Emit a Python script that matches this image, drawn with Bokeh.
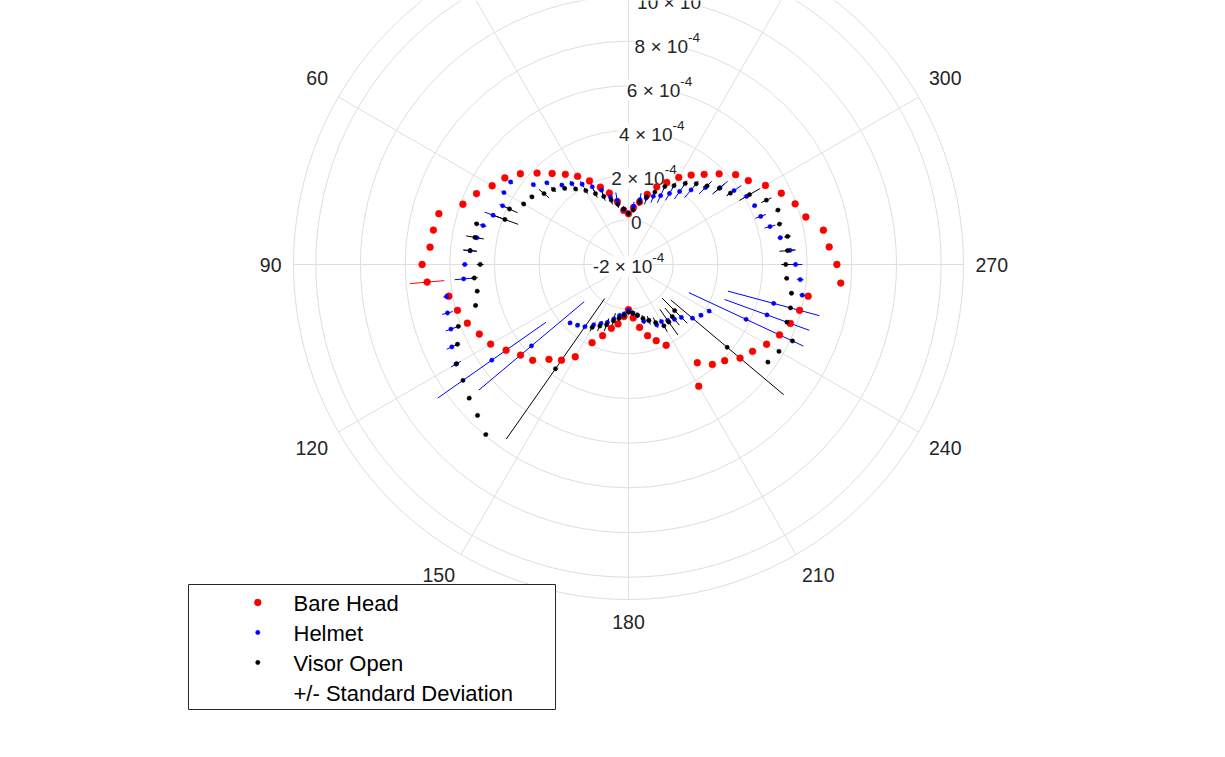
import numpy as np
from bokeh.plotting import figure
from bokeh.models import Range1d
from bokeh.core.properties import value
from bokeh.embed import file_html
from bokeh.resources import INLINE

# ---------------- data (radial values in units of 1e-4) ----------------
theta_deg = list(range(0, 360, 5))

bare_head = [0.27, 0.43, 0.85, 1.31, 1.68, 2.13, 2.56, 2.93, 3.32, 3.79, 4.32, 4.76,
             5.05, 5.51, 5.89, 6.79, 6.87, 6.92, 7.24, 7.05, 6.17, 5.93, 5.68, 5.37,
             5.13, 4.69, 4.31, 4.07, 3.54, 3.23, 2.77, 1.86, 1.39, 0.96, 0.70, 0.34,
             0.02, 0.40, 0.86, 1.30, 1.63, 1.99, 4.29, 3.37, 3.84, 4.09, 4.52, 4.78,
             5.14, 5.46, 5.71, 5.93, 6.17, 7.54, 7.33, 7.02, 6.86, 6.22, 5.94, 5.55,
             5.08, 4.55, 4.26, 3.74, 3.27, 2.89, 2.50, 2.05, 1.70, 1.25, 0.84, 0.55]
bare_head_sd = [0.10] * 19 + [0.77] + [0.10] * 52

helmet = [0.30, 0.46, 0.92, 1.13, 1.54, 1.84, 2.15, 2.42, 2.64, 3.17, 3.56, 4.44,
          4.44, 4.22, 4.45, 4.74, 4.90, 5.12, 5.33, 5.41, 6.27, 6.39, 6.46, 6.73,
          6.92, 5.47, 3.67, 1.70, 1.55, 1.40, 1.12, 0.92, 0.76, 0.52, 0.32, 0.22,
          0.06, 0.17, 0.32, 0.63, 0.67, 0.98, 0.95, 1.06, 1.20, 1.35, 1.74, 1.96,
          2.17, 3.81, 4.60, 4.73, 5.90, 5.72, 5.48, 5.26, 4.90, 4.56, 4.30, 4.23,
          4.10, 3.77, 3.35, 2.87, 2.36, 1.99, 1.67, 1.40, 1.25, 1.08, 0.95, 0.62]
helmet_sd = [0.10, 0.15, 0.35, 0.35, 0.30, 0.25, 0.15, 0.15, 0.12, 0.12, 0.12, 0.12,
             0.12, 0.15, 0.40, 0.15, 0.15, 0.30, 0.12, 0.40, 0.15, 0.25, 0.25, 0.25,
             0.25, 2.96, 3.08, 0.12, 0.12, 0.12, 0.12, 0.12, 0.12, 0.12, 0.12, 0.10,
             0.10, 0.10, 0.10, 0.12, 0.12, 0.12, 0.12, 0.15, 0.15, 0.15, 0.12, 0.12,
             0.12, 2.83, 2.02, 2.12, 0.12, 0.15, 0.30, 0.20, 0.12, 0.25, 0.25, 0.12,
             0.15, 0.40, 0.45, 0.40, 0.45, 0.40, 0.35, 0.35, 0.30, 0.30, 0.30, 0.20]

visor_open = [0.28, 0.50, 0.74, 0.99, 1.24, 1.50, 1.82, 2.13, 2.45, 2.75, 2.94, 3.28,
              3.42, 3.88, 3.89, 5.04, 4.98, 5.12, 4.64, 4.93, 4.88, 5.09, 6.11, 6.45,
              6.89, 7.05, 7.31, 7.56, 7.94, 3.70, 1.25, 1.04, 0.87, 0.61, 0.45, 0.30,
              0.14, 0.20, 0.30, 0.50, 0.66, 0.87, 1.17, 1.15, 1.05, 0.92, 3.77, 5.62,
              5.78, 6.10, 5.55, 5.51, 5.41, 5.11, 5.04, 5.15, 5.23, 5.00, 5.12, 4.81,
              4.26, 3.57, 3.31, 2.98, 2.72, 2.43, 2.08, 1.85, 1.45, 1.13, 0.83, 0.45]
visor_open_sd = [0.10, 0.10, 0.12, 0.15, 0.20, 0.20, 0.15, 0.12, 0.12, 0.15, 0.30, 0.12,
                 0.12, 0.40, 0.63, 0.12, 0.40, 0.30, 0.15, 0.15, 0.10, 0.10, 0.10, 0.10,
                 0.10, 0.10, 0.10, 0.10, 0.10, 3.84, 0.20, 0.25, 0.30, 0.35, 0.20, 0.15,
                 0.10, 0.10, 0.12, 0.15, 0.20, 0.25, 0.30, 0.70, 0.50, 0.80, 3.30, 0.10,
                 0.10, 0.10, 0.10, 0.10, 0.10, 0.10, 0.20, 0.36, 0.15, 0.12, 0.12, 0.25,
                 0.53, 0.20, 0.30, 0.15, 0.15, 0.15, 0.15, 0.15, 0.20, 0.20, 0.15, 0.10]

r_ticks = [-2, 0, 2, 4, 6, 8, 10, 12]          # x 1e-4
r_min, r_max = -2, 13
theta_ticks = list(range(0, 360, 30))
legend_labels = ["Bare Head", "Helmet", "Visor Open", "+/- Standard Deviation"]
series_colors = ["#ff0000", "#0000ff", "#000000"]
marker_sizes = [6.8, 4.3, 4.3]

# ---------------- layout ----------------
W, H = 1209, 741
CX, CY = 628.0, 264.0           # canvas pixel position of the pole
PX = 335.0 / (r_max - r_min)    # pixels per 1e-4
FONT = value("Liberation Sans")
GRID = "#dedede"
TXT = "#262626"


def pol_d(d, th):
    d = np.asarray(d, dtype=float)
    t = np.radians(np.asarray(th, dtype=float))
    return -d * np.sin(t), d * np.cos(t)


def pol(r, th):
    return pol_d(np.asarray(r, dtype=float) - r_min, th)


def sx(px):
    return (px - CX) / PX


def sy(py):
    return (CY - py) / PX


def visible(y_data, margin=12):
    return CY - y_data * PX > -margin


CW = {"-": 0.333, " ": 0.278, "\u00d7": 0.584}
def tw(s, fs):
    return sum(CW.get(c, 0.556) for c in s) * fs


p = figure(width=W, height=H, output_backend="svg", toolbar_location=None,
           x_axis_type=None, y_axis_type=None, min_border=0,
           x_range=Range1d(sx(0), sx(W)), y_range=Range1d(sy(H), sy(0)))
p.outline_line_color = None
p.background_fill_color = "white"

# grid circles
circ_d = [t - r_min for t in r_ticks if t > r_min] + [r_max - r_min]
p.circle(x=[0] * len(circ_d), y=[0] * len(circ_d), radius=circ_d,
         fill_color=None, line_color=GRID, line_width=1)
# spokes
ex, ey = pol_d([r_max - r_min] * len(theta_ticks), theta_ticks)
p.segment(x0=[0] * len(theta_ticks), y0=[0] * len(theta_ticks), x1=ex, y1=ey,
          line_color=GRID, line_width=1)

# theta labels: box aligned against a circle just outside the axes (MATLAB style)
TH_FS = 19.5
ANCH = 347.0 / PX
HALF_H_UP = 13.0 / PX
HALF_H_DN = 10.0 / PX
lx, ly, ltxt = [], [], []
for t in theta_ticks:
    axp, ayp = pol_d(ANCH, t)
    dx, dy = -np.sin(np.radians(t)), np.cos(np.radians(t))
    hw = tw(str(t), TH_FS) / 2 / PX
    cx = axp + (hw if dx > 1e-6 else (-hw if dx < -1e-6 else 0.0))
    cy = ayp + (HALF_H_UP if dy > 1e-6 else (-HALF_H_DN if dy < -1e-6 else 0.0))
    if visible(cy):
        lx.append(float(cx)); ly.append(float(cy)); ltxt.append(str(t))
p.text(x=lx, y=ly, text=ltxt, text_font=FONT,
       text_font_size=value(f"{TH_FS}px"), text_color=TXT,
       text_align="center", text_baseline="middle")

# r tick labels along 350 deg
BASE_FS, SUP_FS = 19.0, 13.5
bx, by, btxt, balign = [], [], [], []
supx, supy, suptxt = [], [], []
ax_all, ay_all = pol([t for t in r_ticks], [350] * len(r_ticks))
for t, ax, ay in zip(r_ticks, ax_all, ay_all):
    if not visible(ay):
        continue
    if t == 0:
        bx.append(ax); by.append(ay - 1.5 / PX); btxt.append("0"); balign.append("center")
        continue
    base = f"{t} \u00d7 10"
    B, S = tw(base, BASE_FS), tw("-4", SUP_FS)
    xr = ax + (B - S) / 2 / PX
    bx.append(xr); by.append(ay - 1.5 / PX); btxt.append(base); balign.append("right")
    supx.append(xr); supy.append(ay + 7.0 / PX); suptxt.append("-4")

p.text(x=bx, y=by, text=btxt, text_align=balign, text_baseline="middle",
       text_font=FONT, text_font_size=value(f"{BASE_FS}px"), text_color=TXT,
       background_fill_color="white")
p.text(x=supx, y=supy, text=suptxt, text_align="left", text_baseline="middle",
       text_font=FONT, text_font_size=value(f"{SUP_FS}px"), text_color=TXT,
       background_fill_color="white")

# error bars (radial)
series = [(bare_head, bare_head_sd), (helmet, helmet_sd), (visor_open, visor_open_sd)]
for (vals, sds), col in zip(series, series_colors):
    v = np.array(vals); s = np.array(sds)
    x0, y0 = pol(np.maximum(v - s, r_min), theta_deg)
    x1, y1 = pol(v + s, theta_deg)
    p.segment(x0=x0, y0=y0, x1=x1, y1=y1, line_color=col, line_width=1)

# points
for (vals, sds), col, ms in zip(series, series_colors, marker_sizes):
    x, y = pol(vals, theta_deg)
    p.scatter(x=x, y=y, marker="circle", size=ms, fill_color=col,
              line_color=col, line_width=0.5)

# legend box (drawn manually to match MATLAB layout)
p.quad(left=[sx(188)], right=[sx(555)], top=[sy(584)], bottom=[sy(709)],
       fill_color="white", line_color=TXT, line_width=1)
row_y = [602.0, 632.0, 662.0, 692.0]
for col, ms, ry in zip(series_colors, marker_sizes, row_y):
    p.scatter(x=[sx(257.3)], y=[sy(ry)], marker="circle", size=ms,
              fill_color=col, line_color=col, line_width=0.5)
p.text(x=[sx(293.0)] * 4, y=[sy(ry + 1.0) for ry in row_y], text=legend_labels,
       text_align="left", text_baseline="middle", text_font=FONT,
       text_font_size=value("22px"), text_color="#000000")

open("out.html", "w").write(file_html(p, INLINE))
